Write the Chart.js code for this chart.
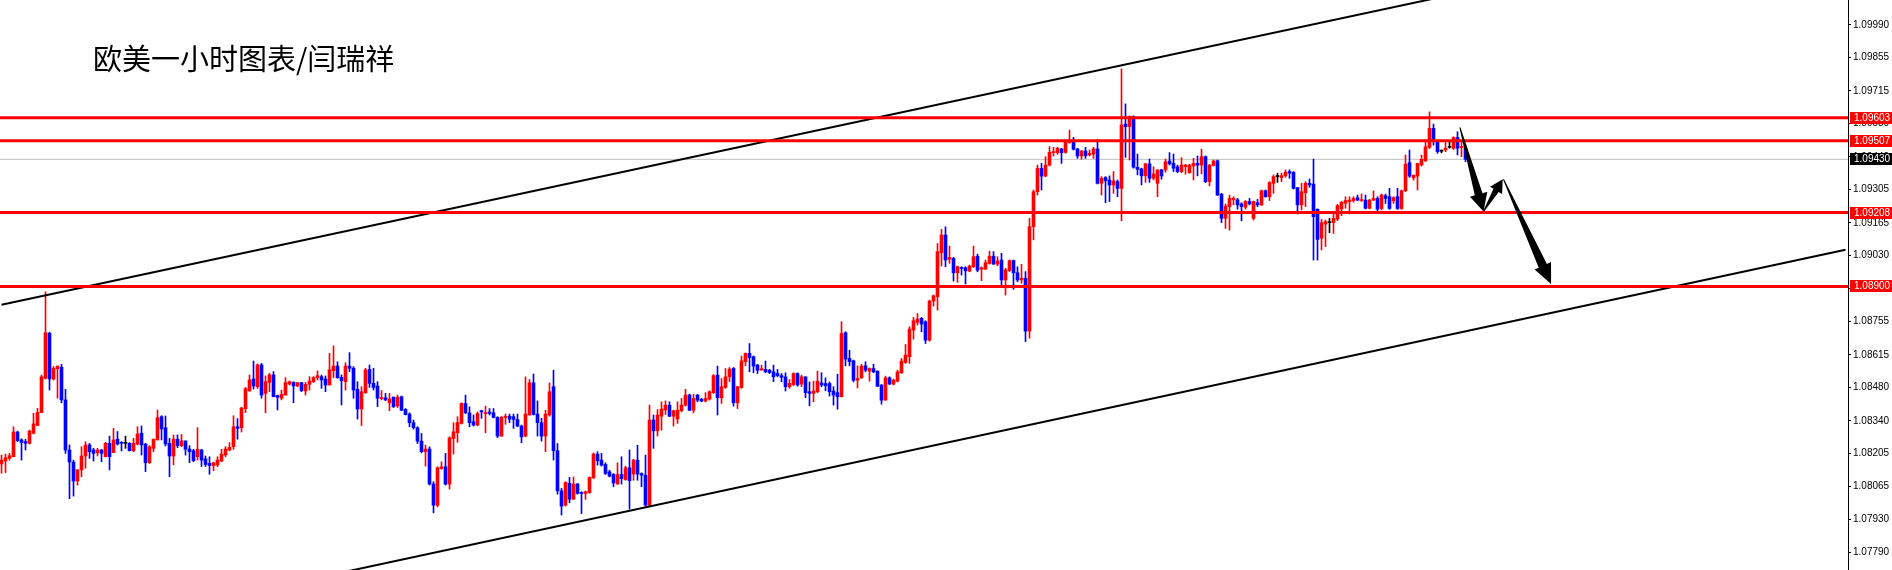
<!DOCTYPE html>
<html>
<head>
<meta charset="utf-8">
<script src="https://cdn.jsdelivr.net/npm/chart.js@4.4.1/dist/chart.umd.min.js"></script>
<style>
  html, body { margin: 0; padding: 0; background: #fff; }
  #wrap { position: relative; width: 1892px; height: 570px; }
  #title { position: absolute; left: 93px; top: 43px; font: 29px "Noto Sans CJK SC", sans-serif; line-height: 29px; color: #000; white-space: nowrap; }
</style>
</head>
<body>
<div id="wrap">
  <canvas id="chart" width="1892" height="570"></canvas>
  <div id="title">欧美一小时图表/闫瑞祥</div>
</div>
<script>
// EURUSD H1 candles, oldest first
const open = [
  1.08160,1.08172,1.08183,1.08190,1.08293,1.08260,1.08253,1.08246,1.08288,1.08320,
  1.08374,1.08517,1.08705,1.08514,1.08557,1.08563,1.08427,1.08218,1.08168,1.08089,
  1.08135,1.08193,1.08239,1.08218,1.08207,1.08218,1.08190,1.08246,1.08207,1.08263,
  1.08249,1.08246,1.08246,1.08215,1.08243,1.08288,1.08243,1.08165,1.08225,1.08260,
  1.08357,1.08311,1.08246,1.08193,1.08263,1.08236,1.08256,1.08222,1.08215,1.08190,
  1.08218,1.08181,1.08162,1.08153,1.08156,1.08172,1.08197,1.08218,1.08232,1.08315,
  1.08311,1.08390,1.08464,1.08514,1.08482,1.08573,1.08454,1.08500,1.08531,1.08445,
  1.08434,1.08447,1.08493,1.08500,1.08485,1.08499,1.08464,1.08492,1.08503,1.08520,
  1.08524,1.08514,1.08489,1.08549,1.08568,1.08521,1.08503,1.08568,1.08559,1.08471,
  1.08389,1.08457,1.08554,1.08496,1.08485,1.08432,1.08436,1.08415,1.08438,1.08402,
  1.08440,1.08387,1.08368,1.08332,1.08311,1.08255,1.08211,1.08222,1.08076,1.07988,
  1.08141,1.08148,1.08076,1.08266,1.08290,1.08329,1.08412,1.08373,1.08336,1.08322,
  1.08382,1.08370,1.08377,1.08373,1.08354,1.08276,1.08354,1.08359,1.08357,1.08345,
  1.08318,1.08276,1.08364,1.08498,1.08368,1.08332,1.08276,1.08364,1.08482,1.08215,
  1.08048,1.07988,1.08079,1.08013,1.08076,1.08041,1.08037,1.08041,1.08102,1.08201,
  1.08176,1.08158,1.08127,1.08116,1.08076,1.08116,1.08095,1.08144,1.08118,1.08176,
  1.08120,1.08113,1.07988,1.08343,1.08298,1.08359,1.08385,1.08405,1.08359,1.08347,
  1.08382,1.08405,1.08447,1.08384,1.08447,1.08430,1.08422,1.08430,1.08457,1.08530,
  1.08436,1.08479,1.08523,1.08558,1.08415,1.08479,1.08586,1.08621,1.08607,1.08572,
  1.08551,1.08554,1.08551,1.08544,1.08537,1.08528,1.08523,1.08482,1.08491,1.08537,
  1.08493,1.08523,1.08461,1.08454,1.08461,1.08498,1.08495,1.08495,1.08464,1.08457,
  1.08440,1.08707,1.08600,1.08590,1.08509,1.08519,1.08569,1.08547,1.08558,1.08547,
  1.08489,1.08426,1.08519,1.08493,1.08505,1.08540,1.08583,1.08607,1.08718,1.08750,
  1.08767,1.08753,1.08676,1.08839,1.08857,1.09040,1.09114,1.09013,1.09017,1.08957,
  1.08978,1.08978,1.08964,1.08982,1.09026,1.08972,1.08972,1.08996,1.09026,1.08993,
  1.09010,1.08927,1.08966,1.09008,1.08957,1.08927,1.08934,1.08714,1.09149,1.09295,
  1.09392,1.09360,1.09406,1.09458,1.09458,1.09473,1.09459,1.09500,1.09511,1.09473,
  1.09444,1.09465,1.09448,1.09452,1.09473,1.09330,1.09354,1.09344,1.09323,1.09337,
  1.09309,1.09577,1.09566,1.09608,1.09397,1.09390,1.09362,1.09411,1.09351,1.09330,
  1.09386,1.09386,1.09423,1.09413,1.09399,1.09379,1.09399,1.09374,1.09402,1.09413,
  1.09406,1.09441,1.09337,1.09404,1.09424,1.09285,1.09184,1.09233,1.09261,1.09261,
  1.09244,1.09230,1.09254,1.09184,1.09249,1.09240,1.09299,1.09274,1.09330,1.09358,
  1.09354,1.09361,1.09379,1.09376,1.09312,1.09240,1.09291,1.09330,1.09327,1.09222,
  1.09101,1.09160,1.09166,1.09166,1.09181,1.09223,1.09247,1.09254,1.09258,1.09270,
  1.09258,1.09260,1.09226,1.09260,1.09267,1.09225,1.09278,1.09274,1.09257,1.09274,
  1.09225,1.09299,1.09416,1.09353,1.09360,1.09406,1.09424,1.09480,1.09559,1.09503,
  1.09464,1.09469,1.09480,1.09476,1.09521,1.09479,1.09476
];
const high = [
  1.08197,1.08201,1.08204,1.08315,1.08297,1.08265,1.08263,1.08301,1.08371,1.08392,
  1.08531,1.08878,1.08709,1.08566,1.08568,1.08575,1.08471,1.08239,1.08176,1.08137,
  1.08232,1.08253,1.08246,1.08225,1.08225,1.08221,1.08250,1.08276,1.08308,1.08295,
  1.08253,1.08276,1.08249,1.08267,1.08315,1.08318,1.08246,1.08236,1.08264,1.08385,
  1.08361,1.08360,1.08267,1.08281,1.08281,1.08283,1.08256,1.08236,1.08221,1.08311,
  1.08221,1.08193,1.08190,1.08167,1.08190,1.08221,1.08232,1.08249,1.08361,1.08349,
  1.08396,1.08479,1.08531,1.08589,1.08577,1.08579,1.08527,1.08538,1.08545,1.08447,
  1.08468,1.08520,1.08506,1.08503,1.08500,1.08499,1.08500,1.08524,1.08524,1.08548,
  1.08531,1.08527,1.08621,1.08652,1.08586,1.08531,1.08582,1.08624,1.08566,1.08503,
  1.08482,1.08559,1.08573,1.08559,1.08503,1.08466,1.08454,1.08454,1.08440,1.08447,
  1.08443,1.08391,1.08373,1.08343,1.08315,1.08287,1.08238,1.08231,1.08086,1.08148,
  1.08169,1.08204,1.08273,1.08332,1.08357,1.08415,1.08447,1.08398,1.08364,1.08377,
  1.08384,1.08401,1.08391,1.08391,1.08357,1.08359,1.08368,1.08368,1.08368,1.08368,
  1.08322,1.08523,1.08512,1.08535,1.08423,1.08350,1.08384,1.08498,1.08551,1.08245,
  1.08058,1.08086,1.08104,1.08106,1.08079,1.08044,1.08047,1.08106,1.08206,1.08211,
  1.08204,1.08165,1.08134,1.08120,1.08165,1.08190,1.08151,1.08218,1.08179,1.08238,
  1.08123,1.08197,1.08405,1.08364,1.08387,1.08419,1.08423,1.08419,1.08384,1.08419,
  1.08433,1.08471,1.08451,1.08450,1.08450,1.08433,1.08457,1.08465,1.08533,1.08568,
  1.08516,1.08558,1.08562,1.08562,1.08484,1.08610,1.08623,1.08662,1.08610,1.08575,
  1.08572,1.08589,1.08554,1.08572,1.08554,1.08537,1.08540,1.08512,1.08540,1.08540,
  1.08530,1.08523,1.08502,1.08505,1.08547,1.08540,1.08519,1.08502,1.08482,1.08534,
  1.08753,1.08711,1.08634,1.08593,1.08569,1.08575,1.08586,1.08560,1.08576,1.08548,
  1.08491,1.08526,1.08523,1.08514,1.08551,1.08600,1.08658,1.08732,1.08771,1.08787,
  1.08771,1.08757,1.08843,1.08864,1.09079,1.09138,1.09149,1.09068,1.09021,1.08985,
  1.08982,1.08982,1.08989,1.09068,1.09035,1.08982,1.09010,1.09047,1.09045,1.09024,
  1.09038,1.08976,1.09010,1.09010,1.08982,1.08992,1.08962,1.09184,1.09302,1.09406,
  1.09413,1.09441,1.09483,1.09480,1.09480,1.09476,1.09511,1.09552,1.09522,1.09476,
  1.09466,1.09480,1.09469,1.09480,1.09511,1.09358,1.09358,1.09361,1.09379,1.09344,
  1.09807,1.09661,1.09611,1.09611,1.09452,1.09393,1.09413,1.09431,1.09399,1.09386,
  1.09388,1.09431,1.09458,1.09452,1.09406,1.09437,1.09409,1.09409,1.09434,1.09444,
  1.09472,1.09444,1.09409,1.09427,1.09427,1.09288,1.09244,1.09281,1.09274,1.09267,
  1.09249,1.09258,1.09267,1.09256,1.09263,1.09302,1.09302,1.09337,1.09365,1.09372,
  1.09372,1.09386,1.09386,1.09379,1.09313,1.09330,1.09337,1.09348,1.09431,1.09223,
  1.09180,1.09177,1.09184,1.09205,1.09242,1.09254,1.09274,1.09274,1.09274,1.09281,
  1.09286,1.09281,1.09263,1.09298,1.09274,1.09285,1.09285,1.09309,1.09274,1.09309,
  1.09302,1.09448,1.09469,1.09364,1.09413,1.09448,1.09510,1.09628,1.09577,1.09507,
  1.09469,1.09510,1.09503,1.09524,1.09545,1.09503,1.09490
];
const low = [
  1.08121,1.08124,1.08176,1.08190,1.08253,1.08176,1.08218,1.08243,1.08285,1.08320,
  1.08374,1.08514,1.08468,1.08510,1.08434,1.08415,1.08204,1.08015,1.08026,1.08072,
  1.08107,1.08142,1.08183,1.08172,1.08193,1.08169,1.08190,1.08135,1.08207,1.08239,
  1.08214,1.08225,1.08214,1.08211,1.08239,1.08197,1.08128,1.08162,1.08211,1.08260,
  1.08260,1.08235,1.08107,1.08156,1.08228,1.08232,1.08197,1.08165,1.08169,1.08176,
  1.08149,1.08149,1.08117,1.08132,1.08149,1.08169,1.08190,1.08215,1.08221,1.08263,
  1.08293,1.08374,1.08464,1.08472,1.08475,1.08434,1.08374,1.08461,1.08440,1.08385,
  1.08427,1.08447,1.08489,1.08415,1.08482,1.08461,1.08447,1.08468,1.08499,1.08510,
  1.08475,1.08461,1.08489,1.08520,1.08517,1.08406,1.08468,1.08545,1.08434,1.08347,
  1.08320,1.08454,1.08479,1.08468,1.08399,1.08427,1.08424,1.08382,1.08395,1.08395,
  1.08382,1.08364,1.08315,1.08305,1.08245,1.08206,1.08151,1.08072,1.07956,1.07981,
  1.08138,1.08072,1.08055,1.08201,1.08250,1.08326,1.08370,1.08315,1.08318,1.08319,
  1.08350,1.08290,1.08364,1.08352,1.08270,1.08276,1.08325,1.08332,1.08308,1.08315,
  1.08248,1.08273,1.08364,1.08364,1.08276,1.08255,1.08211,1.08359,1.08176,1.08034,
  1.07947,1.07984,1.07998,1.08012,1.08034,1.07953,1.08012,1.08037,1.08099,1.08155,
  1.08151,1.08116,1.08106,1.08065,1.08076,1.08076,1.08092,1.07972,1.08092,1.08092,
  1.08065,1.07985,1.07985,1.08225,1.08276,1.08301,1.08366,1.08357,1.08318,1.08329,
  1.08377,1.08401,1.08382,1.08373,1.08419,1.08419,1.08419,1.08426,1.08454,1.08364,
  1.08412,1.08475,1.08503,1.08401,1.08391,1.08475,1.08569,1.08544,1.08540,1.08537,
  1.08551,1.08540,1.08537,1.08503,1.08523,1.08503,1.08464,1.08475,1.08486,1.08484,
  1.08482,1.08436,1.08402,1.08419,1.08457,1.08482,1.08465,1.08443,1.08405,1.08388,
  1.08440,1.08569,1.08569,1.08502,1.08477,1.08516,1.08544,1.08505,1.08540,1.08482,
  1.08409,1.08426,1.08491,1.08489,1.08502,1.08537,1.08579,1.08579,1.08680,1.08739,
  1.08711,1.08662,1.08672,1.08818,1.08801,1.08985,1.08982,1.08996,1.08922,1.08917,
  1.08947,1.08910,1.08961,1.08979,1.08961,1.08924,1.08971,1.08993,1.08992,1.08986,
  1.08906,1.08864,1.08962,1.08888,1.08920,1.08913,1.08670,1.08684,1.09094,1.09281,
  1.09302,1.09358,1.09402,1.09444,1.09451,1.09413,1.09455,1.09497,1.09469,1.09434,
  1.09430,1.09434,1.09444,1.09434,1.09327,1.09281,1.09249,1.09254,1.09288,1.09274,
  1.09174,1.09438,1.09427,1.09393,1.09365,1.09323,1.09334,1.09334,1.09344,1.09274,
  1.09347,1.09376,1.09406,1.09379,1.09374,1.09374,1.09368,1.09372,1.09344,1.09361,
  1.09369,1.09333,1.09319,1.09402,1.09279,1.09166,1.09142,1.09135,1.09240,1.09222,
  1.09174,1.09222,1.09240,1.09177,1.09233,1.09237,1.09272,1.09258,1.09288,1.09334,
  1.09337,1.09355,1.09351,1.09306,1.09202,1.09219,1.09233,1.09313,1.09010,1.09010,
  1.09052,1.09066,1.09124,1.09121,1.09174,1.09195,1.09226,1.09202,1.09251,1.09258,
  1.09254,1.09223,1.09223,1.09258,1.09216,1.09219,1.09246,1.09221,1.09246,1.09221,
  1.09221,1.09295,1.09355,1.09343,1.09302,1.09402,1.09420,1.09475,1.09489,1.09455,
  1.09457,1.09462,1.09476,1.09471,1.09448,1.09441,1.09420
];
const close = [
  1.08176,1.08186,1.08194,1.08293,1.08257,1.08249,1.08246,1.08297,1.08327,1.08375,
  1.08523,1.08707,1.08514,1.08559,1.08568,1.08427,1.08218,1.08168,1.08089,1.08135,
  1.08193,1.08239,1.08211,1.08204,1.08218,1.08204,1.08246,1.08190,1.08260,1.08243,
  1.08246,1.08246,1.08215,1.08246,1.08285,1.08239,1.08165,1.08232,1.08263,1.08353,
  1.08306,1.08243,1.08193,1.08263,1.08236,1.08256,1.08221,1.08211,1.08174,1.08221,
  1.08176,1.08158,1.08154,1.08165,1.08176,1.08201,1.08222,1.08229,1.08315,1.08308,
  1.08393,1.08474,1.08510,1.08485,1.08573,1.08447,1.08503,1.08531,1.08440,1.08438,
  1.08450,1.08499,1.08503,1.08485,1.08499,1.08466,1.08492,1.08506,1.08520,1.08528,
  1.08510,1.08489,1.08552,1.08568,1.08520,1.08507,1.08568,1.08559,1.08468,1.08389,
  1.08461,1.08552,1.08496,1.08479,1.08434,1.08436,1.08427,1.08431,1.08399,1.08438,
  1.08384,1.08366,1.08332,1.08311,1.08255,1.08211,1.08222,1.08076,1.07988,1.08144,
  1.08148,1.08076,1.08269,1.08294,1.08333,1.08412,1.08373,1.08332,1.08322,1.08370,
  1.08377,1.08373,1.08370,1.08354,1.08276,1.08354,1.08359,1.08347,1.08345,1.08318,
  1.08273,1.08368,1.08498,1.08366,1.08332,1.08276,1.08368,1.08461,1.08215,1.08048,
  1.07984,1.08083,1.08013,1.08076,1.08037,1.08037,1.08044,1.08104,1.08201,1.08173,
  1.08155,1.08120,1.08109,1.08081,1.08116,1.08099,1.08144,1.08090,1.08176,1.08118,
  1.08113,1.07988,1.08343,1.08298,1.08364,1.08389,1.08405,1.08359,1.08382,1.08384,
  1.08405,1.08447,1.08384,1.08433,1.08426,1.08422,1.08433,1.08461,1.08528,1.08436,
  1.08482,1.08523,1.08555,1.08415,1.08482,1.08590,1.08621,1.08603,1.08568,1.08551,
  1.08557,1.08544,1.08541,1.08523,1.08528,1.08521,1.08482,1.08496,1.08537,1.08489,
  1.08523,1.08457,1.08454,1.08464,1.08505,1.08489,1.08486,1.08461,1.08447,1.08440,
  1.08704,1.08597,1.08586,1.08509,1.08516,1.08568,1.08551,1.08558,1.08544,1.08484,
  1.08426,1.08519,1.08493,1.08509,1.08544,1.08589,1.08614,1.08722,1.08757,1.08764,
  1.08743,1.08676,1.08839,1.08861,1.09045,1.09114,1.09010,1.09021,1.08957,1.08982,
  1.08975,1.08965,1.08985,1.09024,1.08968,1.08978,1.08999,1.09026,1.08993,1.09006,
  1.08927,1.08969,1.09008,1.08957,1.08927,1.08934,1.08714,1.09149,1.09295,1.09392,
  1.09360,1.09406,1.09459,1.09462,1.09476,1.09458,1.09504,1.09511,1.09472,1.09444,
  1.09465,1.09445,1.09455,1.09473,1.09330,1.09351,1.09340,1.09323,1.09340,1.09309,
  1.09573,1.09566,1.09608,1.09397,1.09388,1.09361,1.09411,1.09351,1.09369,1.09386,
  1.09361,1.09420,1.09411,1.09393,1.09379,1.09406,1.09406,1.09406,1.09413,1.09406,
  1.09441,1.09337,1.09406,1.09423,1.09281,1.09184,1.09235,1.09267,1.09267,1.09240,
  1.09233,1.09254,1.09244,1.09254,1.09240,1.09299,1.09274,1.09333,1.09358,1.09358,
  1.09362,1.09376,1.09372,1.09309,1.09240,1.09295,1.09330,1.09323,1.09191,1.09096,
  1.09166,1.09170,1.09166,1.09184,1.09237,1.09251,1.09258,1.09260,1.09267,1.09260,
  1.09260,1.09226,1.09260,1.09267,1.09222,1.09281,1.09267,1.09225,1.09270,1.09225,
  1.09299,1.09410,1.09360,1.09364,1.09413,1.09430,1.09482,1.09559,1.09513,1.09462,
  1.09464,1.09476,1.09480,1.09521,1.09476,1.09484,1.09430
];

// price axis labels (MT4 style steps)
const tickValues = [1.09990,1.09855,1.09715,1.09580,1.09440,1.09305,1.09165,1.09030,1.08890,
                    1.08755,1.08615,1.08480,1.08340,1.08205,1.08065,1.07930,1.07790];
// horizontal support/resistance levels
const redLevels = [1.09603, 1.09507, 1.09208, 1.08900];
const bidLevel = 1.09430;
// channel lines, [bar index, price]
const upperChannel = [[0, 1.08824], [360, 1.10107]];
const lowerChannel = [[85, 1.07707], [461, 1.09053]];
// forecast arrows, bar index / price
const arrowFromIdx = [364.6, 370.5, 375.5];
const arrowFromPrice = [1.09563, 1.09212, 1.09347];
const arrowToIdx = [370.5, 375.3, 387.4];
const arrowToPrice = [1.09212, 1.09347, 1.08910];

const xMin = -0.375, xMax = 461.625;
const yMin = 1.077178, yMax = 1.100942;

const idx = open.map((_, i) => i);
const colors = idx.map(i => close[i] > open[i] ? '#ff0000' : (close[i] < open[i] ? '#0000ff' : '#000000'));

const hLine = (v, color, width, order) => ({
  type: 'line',
  data: [{x: xMin, y: v}, {x: xMax, y: v}],
  borderColor: color, borderWidth: width, pointRadius: 0, order: order
});
const segLine = (pts) => ({
  type: 'line',
  data: pts.map(p => ({x: p[0], y: p[1]})),
  borderColor: '#000', borderWidth: 2, pointRadius: 0, order: 2
});

const axisTags = {
  id: 'axisTags',
  afterDraw(chart) {
    const ctx = chart.ctx, s = chart.scales.y;
    const tags = redLevels.map(v => [v, '#ff0000']).concat([[bidLevel, '#000000']]);
    ctx.save();
    ctx.font = '10px "Liberation Sans", Arial, sans-serif';
    ctx.textBaseline = 'middle';
    tags.forEach(([v, c]) => {
      const y = Math.round(s.getPixelForValue(v));
      ctx.fillStyle = c;
      ctx.fillRect(s.left + 2, y - 6, chart.width - s.left - 2, 12);
      ctx.fillStyle = '#fff';
      ctx.fillText(v.toFixed(5), s.left + 6, y + 0.5);
    });
    ctx.restore();
  }
};

const arrows = {
  id: 'arrows',
  afterDatasetsDraw(chart) {
    const ctx = chart.ctx, xs = chart.scales.x, ys = chart.scales.y;
    const heads = [[18, 9, 4], [13, 7, 3], [20, 9, 4.5]];
    ctx.save();
    ctx.fillStyle = '#000';
    arrowFromIdx.forEach((_, k) => {
      const sx = xs.getPixelForValue(arrowFromIdx[k]), sy = ys.getPixelForValue(arrowFromPrice[k]);
      const tx = xs.getPixelForValue(arrowToIdx[k]), ty = ys.getPixelForValue(arrowToPrice[k]);
      const len = Math.hypot(tx - sx, ty - sy);
      const dx = (tx - sx) / len, dy = (ty - sy) / len, nx = -dy, ny = dx;
      const [hl, hw, sw] = heads[k];
      const bx = tx - dx * hl, by = ty - dy * hl;
      ctx.beginPath();
      ctx.moveTo(sx + nx * 0.5, sy + ny * 0.5);
      ctx.lineTo(bx + nx * sw, by + ny * sw);
      ctx.lineTo(bx + nx * hw, by + ny * hw);
      ctx.lineTo(tx, ty);
      ctx.lineTo(bx - nx * hw, by - ny * hw);
      ctx.lineTo(bx - nx * sw, by - ny * sw);
      ctx.lineTo(sx - nx * 0.5, sy - ny * 0.5);
      ctx.closePath();
      ctx.fill();
    });
    ctx.restore();
  }
};

new Chart(document.getElementById('chart'), {
  type: 'bar',
  data: {
    datasets: [
      {
        data: idx.map(i => ({x: i, y: [open[i], close[i]]})),
        backgroundColor: colors, barThickness: 3, minBarLength: 1, grouped: false, order: 5
      },
      {
        data: idx.map(i => ({x: i, y: [low[i], high[i]]})),
        backgroundColor: colors, barThickness: 1, grouped: false, order: 6
      },
      hLine(bidLevel, '#c0c0c0', 1, 20),
      ...redLevels.map(v => hLine(v, '#ff0000', 3, 1)),
      segLine(upperChannel),
      segLine(lowerChannel)
    ]
  },
  options: {
    responsive: false,
    devicePixelRatio: 1,
    animation: false,
    events: [],
    layout: { padding: 0 },
    plugins: { legend: { display: false }, tooltip: { enabled: false } },
    scales: {
      x: { type: 'linear', min: xMin, max: xMax, display: false, offset: false },
      y: {
        position: 'right',
        min: yMin, max: yMax,
        afterBuildTicks: s => { s.ticks = tickValues.map(v => ({value: v})); },
        afterFit: s => { s.width = 44; s.paddingTop = 0; s.paddingBottom = 0; },
        ticks: {
          color: '#000', padding: 2, autoSkip: false,
          font: { family: '"Liberation Sans", Arial, sans-serif', size: 10 },
          callback: v => Number(v).toFixed(5)
        },
        grid: { display: true, drawOnChartArea: false, drawTicks: true, tickLength: 3, color: '#000' },
        border: { display: true, color: '#000', width: 1 }
      }
    }
  },
  plugins: [arrows, axisTags]
});
</script>
</body>
</html>
